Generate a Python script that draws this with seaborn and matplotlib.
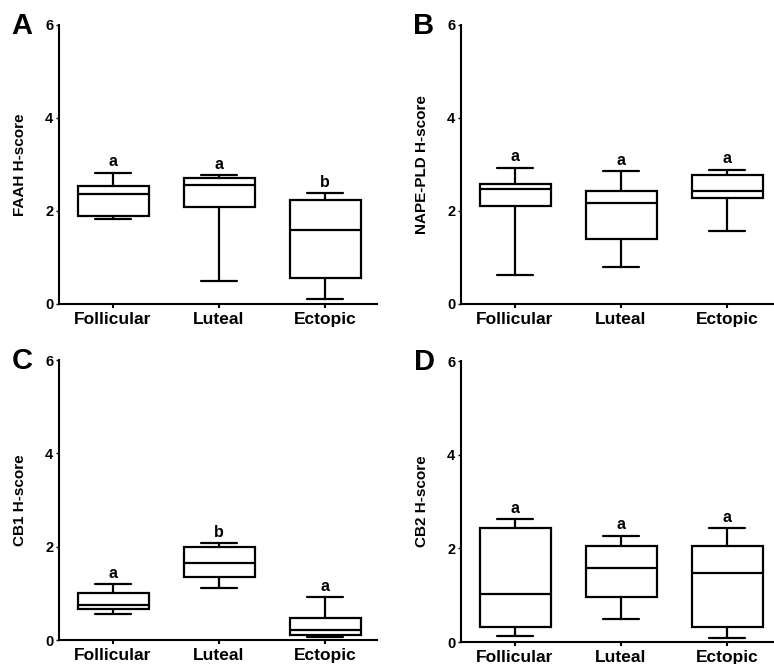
import pandas as pd
import matplotlib
matplotlib.use("Agg")
import matplotlib.pyplot as plt
import seaborn as sns

sns.set_style("ticks")
plt.rcParams["font.family"] = ["Liberation Sans", "DejaVu Sans"]
plt.rcParams["font.weight"] = "bold"
plt.rcParams["axes.labelweight"] = "bold"
plt.rcParams["text.color"] = "black"
plt.rcParams["axes.labelcolor"] = "black"
plt.rcParams["xtick.color"] = "black"
plt.rcParams["ytick.color"] = "black"

groups = ["Follicular", "Luteal", "Ectopic"]

# five-number summaries: [min, q1, median, q3, max]
faah = [[1.82, 1.89, 2.37, 2.54, 2.82],
        [0.49, 2.08, 2.56, 2.70, 2.77],
        [0.10, 0.56, 1.59, 2.23, 2.38]]
nape_pld = [[0.63, 2.10, 2.47, 2.58, 2.93],
            [0.79, 1.39, 2.18, 2.44, 2.85],
            [1.57, 2.27, 2.43, 2.78, 2.89]]
cb1 = [[0.56, 0.67, 0.76, 1.01, 1.19],
       [1.11, 1.36, 1.66, 1.99, 2.07],
       [0.06, 0.10, 0.21, 0.47, 0.92]]
cb2 = [[0.12, 0.32, 1.02, 2.44, 2.62],
       [0.49, 0.96, 1.58, 2.05, 2.27],
       [0.09, 0.33, 1.47, 2.05, 2.43]]

faah_sig = ["a", "a", "b"]
nape_sig = ["a", "a", "a"]
cb1_sig = ["a", "b", "a"]
cb2_sig = ["a", "a", "a"]

W, H = 774, 664
fig = plt.figure(figsize=(W / 100, H / 100), dpi=100)

# (letter, ylabel, summaries, letters, pixel box left/top/right/bottom)
panels = [
    ("A", "FAAH H-score", faah, faah_sig, (59, 25, 377, 304)),
    ("B", "NAPE-PLD H-score", nape_pld, nape_sig, (461, 25, 773, 304)),
    ("C", "CB1 H-score", cb1, cb1_sig, (59, 360, 377, 640)),
    ("D", "CB2 H-score", cb2, cb2_sig, (461, 361, 773, 642)),
]

for letter, ylabel, summ, sig, (l, t, r, b) in panels:
    ax = fig.add_axes([l / W, 1 - b / H, (r - l) / W, (b - t) / H])
    df = pd.DataFrame({
        "group": [g for g, vals in zip(groups, summ) for _ in vals],
        "value": [v for vals in summ for v in vals],
    })
    sns.boxplot(data=df, x="group", y="value", order=groups, whis=(0, 100),
                width=0.67, color="white", linecolor="black", linewidth=1.6,
                showfliers=False, ax=ax)

    # significance letters above the upper whisker
    for i, vals in enumerate(summ):
        ax.annotate(sig[i], (i, max(vals)), xytext=(0, 2.5), textcoords="offset points",
                    ha="center", va="bottom", fontsize=11.5, fontweight="bold",
                    color="black")

    ax.set_xlim(-0.51, -0.51 + (r - l) / 106.0)
    ax.set_ylim(0, 6)
    ax.set_yticks([0, 2, 4, 6])
    ax.set_xlabel("")
    ax.set_ylabel(ylabel, fontsize=11, fontweight="bold", va="center", color="black")
    ax.yaxis.set_label_coords(-39 / (r - l), 0.5)
    sns.despine(ax=ax)
    for side in ["left", "bottom"]:
        ax.spines[side].set_linewidth(1.5)
        ax.spines[side].set_color("black")
    ax.tick_params(axis="x", length=3, width=1.5, pad=3, labelsize=12.5,
                   colors="black")
    ax.tick_params(axis="y", length=2, width=1, pad=2, labelsize=10.5,
                   colors="black")
    for lab in ax.get_xticklabels() + ax.get_yticklabels():
        lab.set_fontweight("bold")

    fig.text((l - 37) / W, 1 - (t + 1) / H, letter, fontsize=21, fontweight="bold",
             ha="center", va="center", color="black")

fig.savefig("out.png", dpi=100)
